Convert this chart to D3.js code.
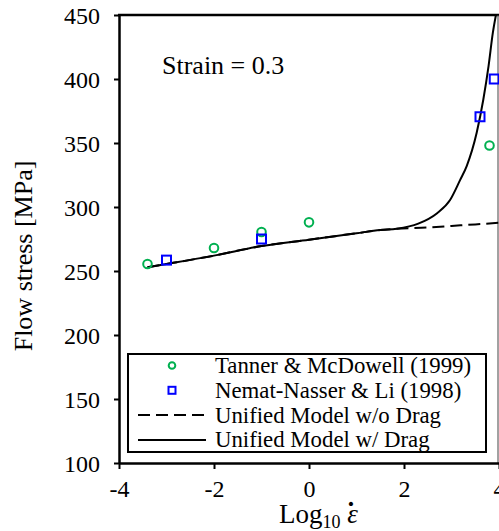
<!DOCTYPE html>
<html>
<head>
<meta charset="utf-8">
<script src="https://cdn.jsdelivr.net/npm/d3@7/dist/d3.min.js"></script>
<style>
    body { margin: 0; background: #fff; }
    text { font-family: "Liberation Serif", "Times New Roman", serif; fill: #000; }
</style>
</head>
<body>
<svg id="chart"></svg>
<script>
// Tanner & McDowell (1999)
const tannerX = [-3.4, -2, -1, 0, 3.8];
const tannerY = [255.5, 268, 280.5, 288, 348];

// Nemat-Nasser & Li (1998)
const nematX = [-3, -1, 3.6, 3.9];
const nematY = [258.5, 275, 370.5, 400];

// Unified model curves
const dragX = [-3.4, -3, -2, -1, 0, 1, 1.5, 1.85, 2.3, 2.69, 2.97, 3.18, 3.32, 3.53, 3.67, 3.78, 3.87, 3.935];
const dragY = [253, 255.5, 262, 269.5, 274.5, 279.5, 282, 283, 287, 295, 305.5, 321, 332, 358, 384, 410, 436, 450];
const noDragX = [-3.4, -3, -2, -1, 0, 1, 1.5, 1.85, 2.5, 3, 3.5, 4];
const noDragY = [253, 255.5, 262, 269.5, 274.5, 279.5, 282, 283, 284, 285.2, 286.4, 287.7];

const xTicks = [-4, -2, 0, 2, 4];
const yTicks = [100, 150, 200, 250, 300, 350, 400, 450];

const legendLabels = [
    "Tanner & McDowell (1999)",
    "Nemat-Nasser & Li (1998)",
    "Unified Model w/o Drag",
    "Unified Model w/ Drag"
];

const width = 499;
const height = 531;
const green = '#00b050';
const blue = '#0000ff';

const svg = d3.select('#chart')
    .attr('width', width)
    .attr('height', height);

const x = d3.scaleLinear().domain([-4, 4]).range([119, 499]);
const y = d3.scaleLinear().domain([100, 450]).range([463, 15]);

// clip for the curves
svg.append('clipPath')
    .attr('id', 'plot-clip')
    .append('rect')
    .attr('x', x(-4))
    .attr('y', y(450))
    .attr('width', x(4) - x(-4))
    .attr('height', y(100) - y(450));

// frame: thick top, thin right
svg.append('line')
    .attr('x1', x(-4) - 1).attr('x2', width)
    .attr('y1', y(450)).attr('y2', y(450))
    .attr('stroke', '#000').attr('stroke-width', 2.5);
svg.append('line')
    .attr('x1', 498).attr('x2', 498)
    .attr('y1', y(450)).attr('y2', y(100))
    .attr('stroke', '#444').attr('stroke-width', 1);

// axes
const yAxis = svg.append('g')
    .attr('transform', `translate(${x(-4)},0)`)
    .call(d3.axisLeft(y).tickValues(yTicks).tickSize(5).tickSizeOuter(0).tickFormat(d3.format('d')));
const xAxis = svg.append('g')
    .attr('transform', `translate(0,${y(100)})`)
    .call(d3.axisBottom(x).tickValues(xTicks).tickSize(6).tickSizeOuter(0).tickFormat(d => d < 0 ? '-' + Math.abs(d) : d));

[xAxis, yAxis].forEach(a => {
    a.attr('font-family', null);
    a.select('.domain').attr('stroke', '#000').attr('stroke-width', 2.5);
    a.selectAll('.tick line').attr('stroke', '#000').attr('stroke-width', 2);
    a.selectAll('.tick text')
        .attr('fill', '#000')
        .style('font-size', '24px');
});
yAxis.selectAll('.tick text').attr('x', -19).attr('dy', '0.34em');
xAxis.selectAll('.tick text').attr('y', 34).attr('dy', 0);

// axis titles
svg.append('text')
    .attr('transform', 'translate(32,256) rotate(-90)')
    .attr('text-anchor', 'middle')
    .style('font-size', '26px')
    .text('Flow stress [MPa]');

const xTitle = svg.append('text')
    .attr('x', 279)
    .attr('y', 523)
    .style('font-size', '27px');
xTitle.append('tspan').text('Log');
xTitle.append('tspan').attr('dy', 5).style('font-size', '18px').text('10');
xTitle.append('tspan').attr('dy', -5).text(' ');
xTitle.append('tspan').style('font-style', 'italic').text('\u03b5');

// dot over epsilon
svg.append('text')
    .attr('x', 351)
    .attr('y', 521)
    .attr('text-anchor', 'middle')
    .style('font-size', '28px')
    .style('font-weight', 'bold')
    .text('\u02d9');

// annotation
svg.append('text')
    .attr('x', 162)
    .attr('y', 74)
    .style('font-size', '26px')
    .text('Strain = 0.3');

// curves
const line = d3.line()
    .x(d => x(d[0]))
    .y(d => y(d[1]))
    .curve(d3.curveMonotoneX);

const curves = svg.append('g').attr('clip-path', 'url(#plot-clip)');
curves.append('path')
    .datum(noDragX.map((v, i) => [v, noDragY[i]]))
    .attr('d', line)
    .attr('fill', 'none')
    .attr('stroke', '#000')
    .attr('stroke-width', 2)
    .attr('stroke-dasharray', '12,6');
curves.append('path')
    .datum(dragX.map((v, i) => [v, dragY[i]]))
    .attr('d', line)
    .attr('fill', 'none')
    .attr('stroke', '#000')
    .attr('stroke-width', 2);

// data points
svg.append('g')
    .selectAll('circle')
    .data(tannerX.map((v, i) => [v, tannerY[i]]))
    .enter().append('circle')
    .attr('cx', d => x(d[0]))
    .attr('cy', d => y(d[1]))
    .attr('r', 4.3)
    .attr('fill', 'none')
    .attr('stroke', green)
    .attr('stroke-width', 2);

svg.append('g')
    .selectAll('rect')
    .data(nematX.map((v, i) => [v, nematY[i]]))
    .enter().append('rect')
    .attr('x', d => x(d[0]) - 4.5)
    .attr('y', d => y(d[1]) - 4.5)
    .attr('width', 9)
    .attr('height', 9)
    .attr('fill', 'none')
    .attr('stroke', blue)
    .attr('stroke-width', 2);

// legend
const legend = svg.append('g');
legend.append('rect')
    .attr('x', 128)
    .attr('y', 354)
    .attr('width', 358)
    .attr('height', 98)
    .attr('fill', '#fff')
    .attr('stroke', '#000')
    .attr('stroke-width', 2);

const rowY = i => 365.5 + i * 24.8;
const keyX = 172;

legend.append('circle')
    .attr('cx', keyX).attr('cy', rowY(0)).attr('r', 3.3)
    .attr('fill', 'none').attr('stroke', green).attr('stroke-width', 2);
legend.append('rect')
    .attr('x', keyX - 3.5).attr('y', rowY(1) - 3.5).attr('width', 7).attr('height', 7)
    .attr('fill', 'none').attr('stroke', blue).attr('stroke-width', 2);
legend.append('line')
    .attr('x1', 138).attr('x2', 206).attr('y1', rowY(2)).attr('y2', rowY(2))
    .attr('stroke', '#000').attr('stroke-width', 2).attr('stroke-dasharray', '12,6');
legend.append('line')
    .attr('x1', 138).attr('x2', 206).attr('y1', rowY(3)).attr('y2', rowY(3))
    .attr('stroke', '#000').attr('stroke-width', 2);

legend.selectAll('text.label')
    .data(legendLabels)
    .enter().append('text')
    .attr('class', 'label')
    .attr('x', 215)
    .attr('y', (d, i) => rowY(i) + 7.5)
    .style('font-size', '22.8px')
    .text(d => d);
</script>
</body>
</html>
